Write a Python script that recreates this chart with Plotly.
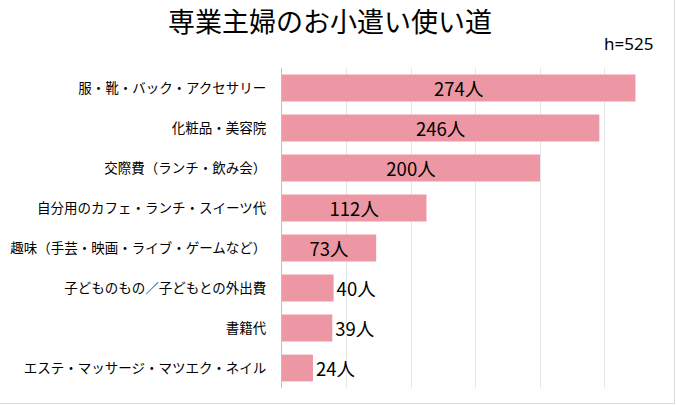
import plotly.graph_objects as go

categories = [
    "服・靴・バック・アクセサリー",
    "化粧品・美容院",
    "交際費（ランチ・飲み会）",
    "自分用のカフェ・ランチ・スイーツ代",
    "趣味（手芸・映画・ライブ・ゲームなど）",
    "子どものもの／子どもとの外出費",
    "書籍代",
    "エステ・マッサージ・マツエク・ネイル",
]
values = [274, 246, 200, 112, 73, 40, 39, 24]
title_text = "専業主婦のお小遣い使い道"
note_text = "h=525"

FONT = "Noto Sans CJK JP"
BAR = "#EE97A4"

positions = ["inside" if v >= 60 else "outside" for v in values]

fig = go.Figure(go.Bar(
    x=values,
    y=categories,
    orientation="h",
    marker=dict(color=BAR, line=dict(width=0)),
    width=0.67,
    text=[f"{v}人" for v in values],
    textposition=positions,
    insidetextanchor="middle",
    textfont=dict(family=FONT, size=18.5, color="#000000"),
    constraintext="none",
    cliponaxis=False,
    hoverinfo="skip",
))

W, H = 676, 405
L, R, T, B = 282, 7, 68, 17
pw, ph = W - L - R, H - T - B

fig.update_layout(
    width=W, height=H,
    margin=dict(l=L, r=R, t=T, b=B, autoexpand=False),
    paper_bgcolor="white",
    plot_bgcolor="white",
    showlegend=False,
    font=dict(family=FONT, color="#000000"),
    title=dict(text=title_text, x=330 / W, xanchor="center", y=1 - 23 / H, yanchor="middle",
               font=dict(family=FONT, size=27, color="#000000")),
    xaxis=dict(range=[0, 300], dtick=50, showticklabels=False, showgrid=True,
               gridcolor="#E6E6E6", gridwidth=1, zeroline=False, showline=False,
               fixedrange=True, automargin=False),
    yaxis=dict(autorange="reversed", showline=True, linecolor="#BFBFBF", linewidth=1,
               ticks="", ticklabelstandoff=12, showgrid=False, automargin=False,
               tickfont=dict(family=FONT, size=13.5, color="#000000")),
    annotations=[dict(text=note_text, xref="paper", yref="paper",
                      x=(655 - L) / pw, y=(H - B - 43) / ph, xanchor="right", yanchor="middle",
                      showarrow=False, font=dict(family="Noto Sans", size=17, color="#000000"))],
    shapes=[
        dict(type="line", xref="paper", yref="paper",
             x0=(0 - L) / pw, x1=(675 - L) / pw, y0=(H - B - 403.5) / ph, y1=(H - B - 403.5) / ph,
             line=dict(color="#D9D9D9", width=1)),
        dict(type="line", xref="paper", yref="paper",
             x0=(674.5 - L) / pw, x1=(674.5 - L) / pw, y0=(H - B - 404) / ph, y1=(H - B - 0) / ph,
             line=dict(color="#D9D9D9", width=1)),
    ],
)

fig.write_html("out.html", config={"displayModeBar": False},
               post_script="document.body.style.margin='0';document.body.style.overflow='hidden';")
